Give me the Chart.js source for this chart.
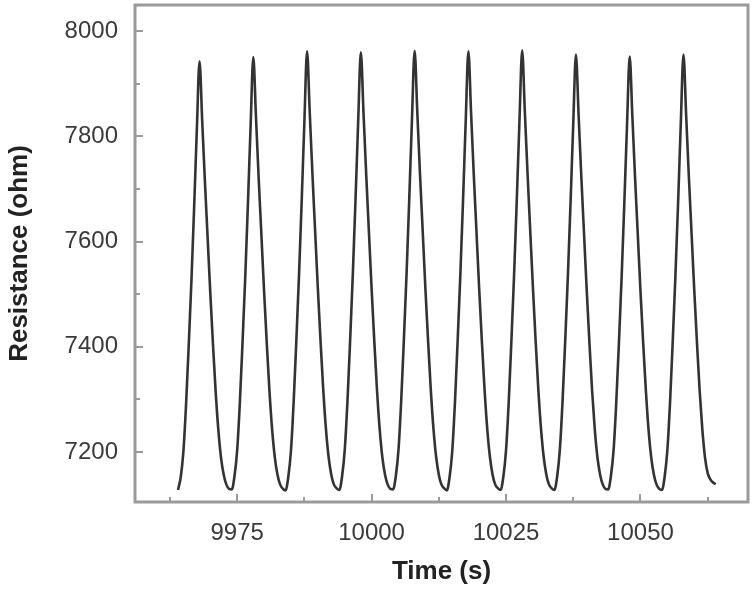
<!DOCTYPE html>
<html>
<head>
<meta charset="utf-8">
<script src="https://cdn.jsdelivr.net/npm/chart.js@4/dist/chart.umd.min.js"></script>
<style>
  html, body { margin: 0; padding: 0; background: #fff; }
  #chart { display: block; }
</style>
</head>
<body>
<canvas id="chart" width="755" height="589"></canvas>
<script>
  // sample times (s), 0.5 s apart
  const time = [
    9964, 9964.5, 9965, 9965.5, 9966, 9966.5, 9967, 9967.5, 9968, 9968.5, 9969, 9969.5, 9970, 9970.5, 9971, 9971.5, 9972, 9972.5, 9973, 9973.5,
    9974, 9974.5, 9975, 9975.5, 9976, 9976.5, 9977, 9977.5, 9978, 9978.5, 9979, 9979.5, 9980, 9980.5, 9981, 9981.5, 9982, 9982.5, 9983, 9983.5,
    9984, 9984.5, 9985, 9985.5, 9986, 9986.5, 9987, 9987.5, 9988, 9988.5, 9989, 9989.5, 9990, 9990.5, 9991, 9991.5, 9992, 9992.5, 9993, 9993.5,
    9994, 9994.5, 9995, 9995.5, 9996, 9996.5, 9997, 9997.5, 9998, 9998.5, 9999, 9999.5, 10000, 10000.5, 10001, 10001.5, 10002, 10002.5, 10003, 10003.5,
    10004, 10004.5, 10005, 10005.5, 10006, 10006.5, 10007, 10007.5, 10008, 10008.5, 10009, 10009.5, 10010, 10010.5, 10011, 10011.5, 10012, 10012.5, 10013, 10013.5,
    10014, 10014.5, 10015, 10015.5, 10016, 10016.5, 10017, 10017.5, 10018, 10018.5, 10019, 10019.5, 10020, 10020.5, 10021, 10021.5, 10022, 10022.5, 10023, 10023.5,
    10024, 10024.5, 10025, 10025.5, 10026, 10026.5, 10027, 10027.5, 10028, 10028.5, 10029, 10029.5, 10030, 10030.5, 10031, 10031.5, 10032, 10032.5, 10033, 10033.5,
    10034, 10034.5, 10035, 10035.5, 10036, 10036.5, 10037, 10037.5, 10038, 10038.5, 10039, 10039.5, 10040, 10040.5, 10041, 10041.5, 10042, 10042.5, 10043, 10043.5,
    10044, 10044.5, 10045, 10045.5, 10046, 10046.5, 10047, 10047.5, 10048, 10048.5, 10049, 10049.5, 10050, 10050.5, 10051, 10051.5, 10052, 10052.5, 10053, 10053.5,
    10054, 10054.5, 10055, 10055.5, 10056, 10056.5, 10057, 10057.5, 10058, 10058.5, 10059, 10059.5, 10060, 10060.5, 10061, 10061.5, 10062, 10062.5, 10063, 10063.5, 10064
  ];

  // resistance (ohm)
  const resistance = [
    7128, 7152, 7201, 7291, 7405, 7527, 7666, 7813, 7943, 7829, 7715, 7609, 7503, 7405, 7315, 7242, 7189, 7157, 7138, 7130,
    7129, 7154, 7203, 7294, 7409, 7532, 7672, 7820, 7951, 7836, 7721, 7614, 7507, 7408, 7317, 7243, 7190, 7157, 7138, 7130,
    7127, 7152, 7202, 7294, 7411, 7536, 7677, 7828, 7962, 7845, 7728, 7620, 7512, 7412, 7320, 7245, 7191, 7157, 7138, 7131,
    7128, 7153, 7203, 7294, 7410, 7536, 7677, 7827, 7960, 7844, 7727, 7619, 7511, 7411, 7319, 7244, 7190, 7157, 7138, 7130,
    7129, 7154, 7204, 7296, 7413, 7538, 7680, 7830, 7963, 7846, 7729, 7621, 7512, 7412, 7320, 7245, 7191, 7157, 7138, 7131,
    7127, 7152, 7202, 7294, 7411, 7536, 7677, 7828, 7962, 7845, 7728, 7620, 7512, 7412, 7320, 7245, 7191, 7157, 7138, 7131,
    7128, 7153, 7203, 7295, 7412, 7537, 7679, 7830, 7964, 7847, 7730, 7621, 7513, 7412, 7320, 7245, 7191, 7157, 7138, 7131,
    7128, 7153, 7203, 7294, 7410, 7534, 7674, 7824, 7956, 7840, 7724, 7617, 7509, 7410, 7318, 7244, 7190, 7157, 7138, 7130,
    7129, 7154, 7203, 7294, 7409, 7533, 7673, 7821, 7952, 7837, 7721, 7614, 7507, 7408, 7318, 7243, 7190, 7157, 7138, 7130,
    7128, 7153, 7203, 7294, 7410, 7534, 7674, 7824, 7956, 7840, 7724, 7617, 7509, 7410, 7318, 7244, 7190, 7160, 7148, 7142, 7139
  ];

  const xTicks = [9975, 10000, 10025, 10050];
  const xMinorTicks = [9962.5, 9987.5, 10012.5, 10037.5, 10062.5];
  const yTicks = [7200, 7400, 7600, 7800, 8000];
  const yMinorTicks = [7300, 7500, 7700, 7900];

  const FONT = "'Liberation Sans', Arial, sans-serif";

  // box round the plot + inward tick marks
  const frameTicks = {
    id: 'frameTicks',
    afterDatasetsDraw(chart) {
      const { ctx, chartArea: a, scales: { x, y } } = chart;
      ctx.save();
      ctx.strokeStyle = '#9a9a9a';
      ctx.lineWidth = 3;
      ctx.strokeRect(a.left, a.top, a.right - a.left, a.bottom - a.top);

      ctx.lineWidth = 2;
      ctx.beginPath();
      xTicks.forEach(v => {
        const px = Math.round(x.getPixelForValue(v));
        ctx.moveTo(px, a.bottom); ctx.lineTo(px, a.bottom - 8);
      });
      xMinorTicks.forEach(v => {
        const px = Math.round(x.getPixelForValue(v));
        ctx.moveTo(px, a.bottom); ctx.lineTo(px, a.bottom - 5);
      });
      yTicks.forEach(v => {
        const py = Math.round(y.getPixelForValue(v));
        ctx.moveTo(a.left, py); ctx.lineTo(a.left + 8, py);
      });
      yMinorTicks.forEach(v => {
        const py = Math.round(y.getPixelForValue(v));
        ctx.moveTo(a.left, py); ctx.lineTo(a.left + 5, py);
      });
      ctx.stroke();
      ctx.restore();
    }
  };

  const ctx = document.getElementById('chart').getContext('2d');
  new Chart(ctx, {
    type: 'line',
    data: {
      datasets: [{
        data: time.map((t, i) => ({ x: t, y: resistance[i] })),
        borderColor: '#333',
        borderWidth: 2.6,
        pointRadius: 0,
        cubicInterpolationMode: 'monotone',
        fill: false
      }]
    },
    options: {
      responsive: false,
      animation: false,
      devicePixelRatio: 1,
      layout: { padding: { top: 5, right: 7, bottom: 0, left: 0 } },
      plugins: {
        legend: { display: false },
        tooltip: { enabled: false }
      },
      scales: {
        x: {
          type: 'linear',
          min: 9956,
          max: 10070,
          afterBuildTicks: s => { s.ticks = xTicks.map(v => ({ value: v })); },
          afterFit: s => { s.height = 87; s.paddingLeft = 0; s.paddingRight = 0; },
          grid: { display: false, drawTicks: false },
          border: { display: false },
          ticks: {
            padding: 17,
            color: '#3a3a3a',
            font: { family: FONT, size: 24 },
            maxRotation: 0,
            callback: v => String(v)
          },
          title: {
            display: true,
            text: 'Time (s)',
            color: '#222',
            font: { family: FONT, size: 26, weight: 'bold' },
            padding: { top: 0, bottom: 2 }
          }
        },
        y: {
          type: 'linear',
          min: 7105,
          max: 8050,
          afterBuildTicks: s => { s.ticks = yTicks.map(v => ({ value: v })); },
          afterFit: s => { s.width = 135; s.paddingTop = 0; s.paddingBottom = 0; },
          grid: { display: false, drawTicks: false },
          border: { display: false },
          ticks: {
            padding: 17,
            color: '#3a3a3a',
            font: { family: FONT, size: 24 },
            callback: v => String(v)
          },
          title: {
            display: true,
            text: 'Resistance (ohm)',
            color: '#222',
            font: { family: FONT, size: 26, weight: 'bold' },
            padding: { top: 4, bottom: 0 }
          }
        }
      }
    },
    plugins: [frameTicks]
  });
</script>
</body>
</html>
